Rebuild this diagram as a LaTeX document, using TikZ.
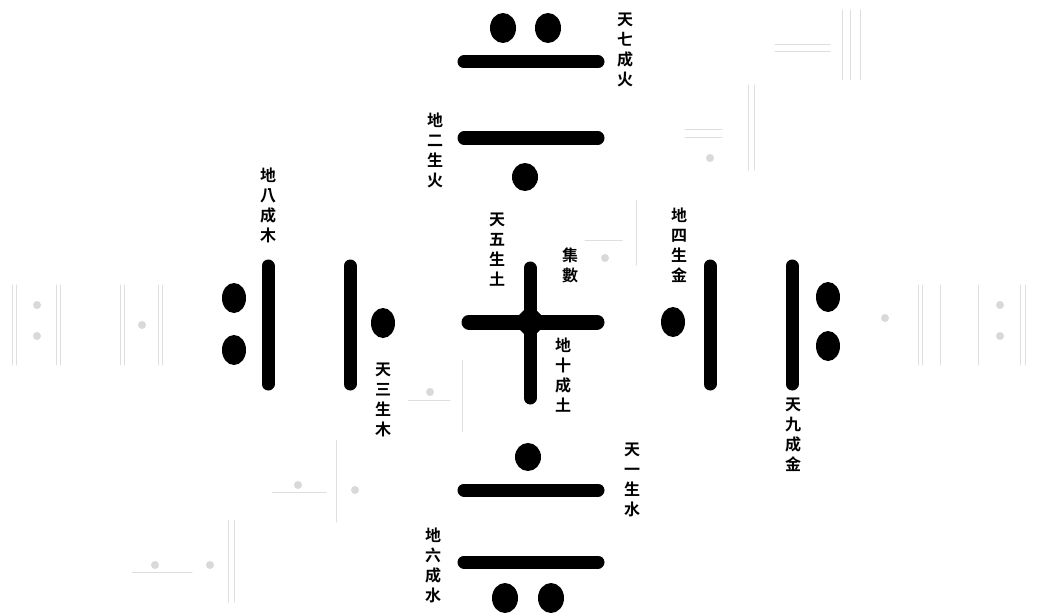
\documentclass[tikz,border=0pt]{standalone}
\usepackage{fontspec}
\newfontfamily\cjk{Noto Sans CJK TC}[BoldFont={Noto Sans CJK TC Bold}]
\begin{document}
\begin{tikzpicture}[x=1pt, y=-1pt, line join=round, line cap=round,
	bar/.style={line width=13pt},
	dot/.style={fill=black},
	ghost/.style={black!13, line width=1pt},
	ghostdot/.style={fill=black!15},
	lbl/.style={font=\cjk\bfseries\fontsize{16}{20}\selectfont, align=center, inner sep=0pt}]
	\useasboundingbox (0,0) rectangle (1038,615);
	% faint marks from the back of the page
	\draw[ghost] (12,285)--(12,365) (16,285)--(16,365) (56,285)--(56,365) (60,285)--(60,365);
	\draw[ghost] (120,285)--(120,365) (124,285)--(124,365) (158,285)--(158,365) (162,285)--(162,365);
	\draw[ghost] (918,285)--(918,365) (922,285)--(922,365) (940,285)--(940,365);
	\draw[ghost] (978,285)--(978,365) (1020,285)--(1020,365) (1025,285)--(1025,365);
	\draw[ghost] (775,45)--(830,45) (775,52)--(830,52) (842,10)--(842,80) (850,10)--(850,80) (860,10)--(860,80);
	\draw[ghost] (685,130)--(722,130) (685,137)--(722,137) (748,85)--(748,170) (754,85)--(754,170);
	\draw[ghost] (585,240)--(622,240) (636,200)--(636,265);
	\draw[ghost] (408,400)--(450,400) (462,360)--(462,432);
	\draw[ghost] (272,492)--(326,492) (336,440)--(336,522);
	\draw[ghost] (132,572)--(192,572) (228,520)--(228,602) (234,520)--(234,602);
	\path[ghostdot] (37,305) circle (4) (37,336) circle (4) (142,325) circle (4)
		(885,318) circle (4) (1000,305) circle (4) (1000,336) circle (4)
		(710,158) circle (4) (605,258) circle (4) (430,392) circle (4)
		(298,485) circle (4) (355,490) circle (4) (155,565) circle (4) (210,565) circle (4);
	% south-north, east-west bars
	\draw[bar] (464,62)--(598,62);
	\draw[bar] (464,138)--(598,138);
	\draw[bar] (464,490)--(598,490);
	\draw[bar] (464,562)--(598,562);
	\draw[bar] (268,266)--(268,384);
	\draw[bar] (350,266)--(350,384);
	\draw[bar] (710,266)--(710,384);
	\draw[bar] (792,266)--(792,384);
	% centre cross
	\draw[bar, line width=15pt] (469,322)--(597,322);
	\draw[bar] (530,268)--(530,398);
	\fill (530,304)--(548,322)--(530,340)--(512,322)--cycle;
	% dots
	\path[dot] (503,28) ellipse (13 and 15) (548,28) ellipse (13 and 15)
		(525,177) ellipse (13 and 14)
		(234,298) ellipse (12 and 15) (234,350) ellipse (12 and 15)
		(383,323) ellipse (12 and 15)
		(673,322) ellipse (12 and 15)
		(828,297) ellipse (12 and 15) (828,346) ellipse (12 and 15)
		(528,457) ellipse (13 and 14)
		(505,598) ellipse (13 and 15) (551,598) ellipse (13 and 15);
	% labels
	\node[lbl] (q7) at (625,50) {天\\七\\成\\火};
	\node[lbl] (d2) at (435,150) {地\\二\\生\\火};
	\node[lbl] (d8) at (268,205) {地\\八\\成\\木};
	\node[lbl] (t5) at (497,250) {天\\五\\生\\土};
	\node[lbl] (js) at (570,265) {集\\數};
	\node[lbl] (d4) at (679,245) {地\\四\\生\\金};
	\node[lbl] (t3) at (383,400) {天\\三\\生\\木};
	\node[lbl] (d10) at (563,375) {地\\十\\成\\土};
	\node[lbl] (t9) at (793,435) {天\\九\\成\\金};
	\node[lbl] (t1) at (632,480) {天\\一\\生\\水};
	\node[lbl] (d6) at (433,565) {地\\六\\成\\水};
\end{tikzpicture}
\end{document}
